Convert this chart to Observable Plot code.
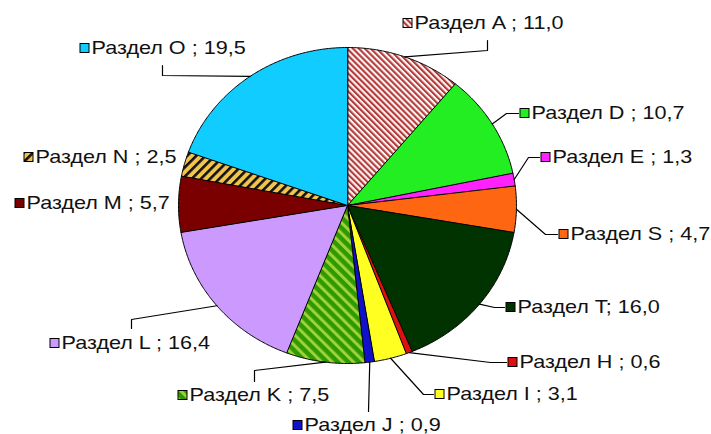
<!DOCTYPE html>
<html>
<head>
<meta charset="utf-8">
<script src="https://cdn.jsdelivr.net/npm/d3@7"></script>
<script src="https://cdn.jsdelivr.net/npm/@observablehq/plot@0.6"></script>
<style>
  html, body { margin: 0; padding: 0; background: #fff; }
</style>
</head>
<body>
<div id="chart"></div>
<script>
// ---- data ----
const sections = ["Раздел A", "Раздел D", "Раздел E", "Раздел S", "Раздел T", "Раздел H", "Раздел I", "Раздел J", "Раздел K", "Раздел L", "Раздел M", "Раздел N", "Раздел O"];
const values = [11.0, 10.7, 1.3, 4.7, 16.0, 0.6, 3.1, 0.9, 7.5, 16.4, 5.7, 2.5, 19.5];
const separators = [" ; ", " ; ", " ; ", " ; ", "; ", " ; ", " ; ", " ; ", " ; ", " ; ", " ; ", " ; ", " ; "];

// ---- styles ----
const fills = ["url(#pA)", "#22ee22", "#ff22ff", "#ff6611", "#003300", "#dd1111", "#ffff22", "#1111cc", "url(#pK)", "#cc99ff", "#7a0000", "url(#pN)", "#11ccff"];

// ---- layout (label square left x / centre y, leader elbows from label towards pie) ----
const labelSq = [[403, 23], [520, 113], [541, 157], [559, 234], [506, 307], [508, 362], [435, 394], [293, 425], [178, 395], [50, 343], [15, 203], [24, 157], [80, 48]];
const elbows = [
  [[487, 40], [487, 50]],
  [[518, 113], [506, 113]],
  [[539, 157], [528, 157]],
  [[557, 234], [545, 234]],
  [[504, 307], [494, 307]],
  [[506, 362], [490, 362]],
  [[433, 394], [423, 394]],
  [[368, 411]],
  [[254, 381], [254, 370]],
  [[131, 328], [131, 319]],
  [],
  [],
  [[162, 65], [162, 75]]
];

const W = 711, H = 434;
const cx = 347, cy = 205, rx = 169, ry = 158;

const total = d3.sum(values);
const fmt = v => v.toFixed(1).replace(".", ",");
let acc = 0;
const slices = sections.map((s, i) => {
  const a0 = acc / total * 2 * Math.PI;
  acc += values[i];
  const a1 = acc / total * 2 * Math.PI;
  return {s, i, a0, a1, mid: (a0 + a1) / 2};
});
const pt = a => [cx + rx * Math.sin(a), cy - ry * Math.cos(a)];

const poly = [];
slices.forEach(sl => {
  poly.push({k: sl.s, i: sl.i, x: cx, y: cy});
  const n = Math.max(2, Math.ceil((sl.a1 - sl.a0) / (Math.PI / 360)));
  for (let j = 0; j <= n; j++) {
    const [x, y] = pt(sl.a0 + (sl.a1 - sl.a0) * j / n);
    poly.push({k: sl.s, i: sl.i, x, y});
  }
});

const leaders = [];
slices.forEach(sl => {
  const e = elbows[sl.i];
  if (!e.length) return;
  e.forEach(([x, y]) => leaders.push({k: sl.s, x, y}));
  const [x, y] = pt(sl.mid);
  leaders.push({k: sl.s, x, y});
});

const labels = slices.map(sl => ({
  i: sl.i,
  sx: labelSq[sl.i][0],
  sy: labelSq[sl.i][1],
  text: sections[sl.i] + separators[sl.i] + fmt(values[sl.i])
}));

const chart = Plot.plot({
  width: W,
  height: H,
  margin: 0,
  x: {domain: [0, W], range: [0, W], axis: null},
  y: {domain: [0, H], range: [0, H], axis: null},
  color: {type: "identity"},
  style: {background: "#fff"},
  marks: [
    Plot.line(poly, {x: "x", y: "y", z: "k", fill: d => fills[d.i], stroke: "#000", strokeWidth: 1, curve: "linear-closed"}),
    Plot.line(leaders, {x: "x", y: "y", z: "k", stroke: "#000", strokeWidth: 1.2}),
    Plot.rect(labels, {x1: d => d.sx, x2: d => d.sx + 9, y1: d => d.sy - 4.5, y2: d => d.sy + 4.5, fill: d => fills[d.i], stroke: "#000", strokeWidth: 1}),
    Plot.text(labels, {x: d => d.sx + 11, y: d => d.sy, text: "text", textAnchor: "start", fontSize: 18, fontFamily: "Liberation Sans, Arial, sans-serif", fill: "#111", className: "lbl"})
  ]
});

// Widen label glyphs horizontally to match the stretched reference text
chart.querySelectorAll("g.lbl text").forEach(t => {
  const tr = t.getAttribute("transform") || "";
  t.setAttribute("transform", tr + " scale(1.2,1)");
});

const defs = document.createElementNS("http://www.w3.org/2000/svg", "defs");
defs.innerHTML = `
<pattern id="pA" width="4.2" height="10" patternUnits="userSpaceOnUse" patternTransform="rotate(-45)">
  <rect width="4.2" height="10" fill="#fff6f4"/><rect width="2.1" height="10" fill="#b23a3a"/>
</pattern>
<pattern id="pK" width="7.5" height="10" patternUnits="userSpaceOnUse" patternTransform="rotate(-45)">
  <rect width="7.5" height="10" fill="#2f9a00"/><rect width="3" height="10" fill="#9fd23a"/>
</pattern>
<pattern id="pN" width="6.5" height="10" patternUnits="userSpaceOnUse" patternTransform="rotate(45)">
  <rect width="6.5" height="10" fill="#f3c44a"/><rect width="2.6" height="10" fill="#111"/>
</pattern>`;
chart.insertBefore(defs, chart.firstChild);
document.getElementById("chart").appendChild(chart);
</script>
</body>
</html>
